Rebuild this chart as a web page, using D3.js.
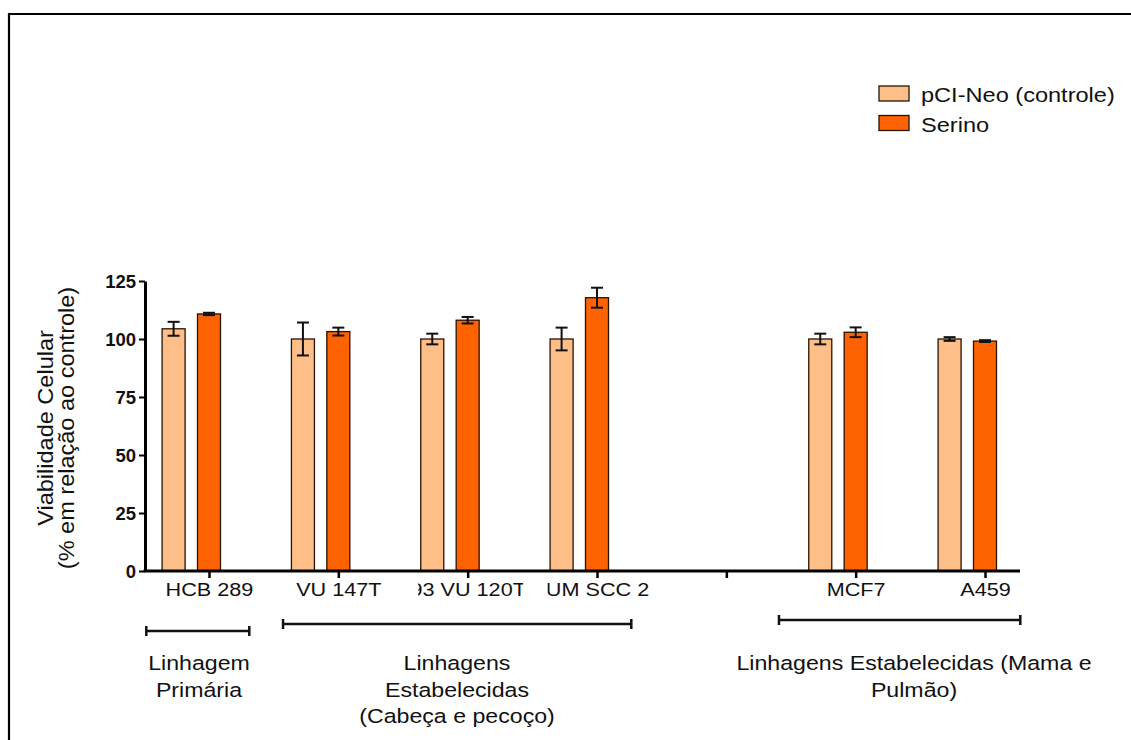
<!DOCTYPE html>
<html><head><meta charset="utf-8">
<script src="https://cdn.jsdelivr.net/npm/d3@7"></script>
<style>
body{margin:0;background:#fff}
svg{display:block}
text{font-family:Arial,"Liberation Sans",sans-serif;fill:#111}
</style>
</head><body><svg id="c" width="1131" height="740"></svg>
<script>
// ---------- data ----------
const slots = ["HCB 289","VU 147T","93 VU 120T","UM SCC 2","gap","MCF7","A459"];
const categories = ["HCB 289","VU 147T","93 VU 120T","UM SCC 2","MCF7","A459"];
const seriesNames = ["pCI-Neo (controle)","Serino"];
const seriesKeys = ["control","serino"];
const controlMean = [104.4,100.0,100.0,100.0,100.0,100.0];
const controlErr  = [3.0,7.1,2.3,4.9,2.3,0.8];
const serinoMean  = [110.8,103.2,108.1,117.8,102.9,99.1];
const serinoErr   = [0.5,1.7,1.4,4.3,2.1,0.4];
const yTicks = [0,25,50,75,100,125];
const yTitle = ["Viabilidade Celular","(% em relação ao controle)"];
const groupNames = [
  ["Linhagem","Primária"],
  ["Linhagens","Estabelecidas","(Cabeça e pecoço)"],
  ["Linhagens Estabelecidas (Mama e","Pulmão)"]
];
const groupFrom = ["HCB 289","VU 147T","MCF7"];
const groupTo   = ["HCB 289","UM SCC 2","A459"];

// ---------- layout ----------
const colors = {control:"#FDBF87", serino:"#FF6200"};
const svg = d3.select("#c");

// frame
svg.append("path").attr("d","M9,740 V14 H1131").attr("fill","none")
  .attr("stroke","#000").attr("stroke-width",2.2);

const y = d3.scaleLinear().domain([0,125]).range([571,281]);
const x0 = d3.scalePoint().domain(slots).range([191.3,967.3]);
const x1 = d3.scaleBand().domain(seriesKeys).range([-29.2,29.2]).paddingInner(0.35);
const tickX = x0.copy().range([191.3 + 17.7, 967.3 + 17.7]);

const rows = categories.map((c,i)=>({
  cat:c,
  vals:[{k:"control",m:controlMean[i],e:controlErr[i]},
        {k:"serino",m:serinoMean[i],e:serinoErr[i]}]
}));

// bars
const g = svg.append("g");
const grp = g.selectAll("g.grp").data(rows).join("g")
  .attr("transform",d=>`translate(${x0(d.cat)},0)`);
grp.selectAll("rect").data(d=>d.vals).join("rect")
  .attr("x",d=>x1(d.k)).attr("width",x1.bandwidth())
  .attr("y",d=>y(d.m)).attr("height",d=>y(0)-y(d.m))
  .attr("fill",d=>colors[d.k]).attr("stroke","#2a1200").attr("stroke-width",1.3);
// error bars
const eb = grp.selectAll("g.eb").data(d=>d.vals).join("g")
  .attr("transform",d=>`translate(${x1(d.k)+x1.bandwidth()/2},0)`)
  .attr("stroke","#111").attr("stroke-width",2);
eb.append("line").attr("y1",d=>y(d.m+d.e)).attr("y2",d=>y(d.m-d.e));
eb.append("line").attr("x1",-6).attr("x2",6).attr("y1",d=>y(d.m+d.e)).attr("y2",d=>y(d.m+d.e));
eb.append("line").attr("x1",-6).attr("x2",6).attr("y1",d=>y(d.m-d.e)).attr("y2",d=>y(d.m-d.e));

// y axis
const ya = svg.append("g").attr("transform","translate(145,0)")
  .call(d3.axisLeft(y).tickValues(yTicks).tickSize(6).tickSizeOuter(0).tickPadding(3));
ya.select(".domain").attr("stroke","#000").attr("stroke-width",3);
ya.selectAll(".tick line").attr("stroke","#000").attr("stroke-width",2);
ya.selectAll(".tick text").attr("font-size",18.5).attr("font-weight","bold")
  .attr("font-family","Arial, 'Liberation Sans', sans-serif").attr("fill","#111")
  .attr("dy","0.36em");

// x axis
svg.append("defs").append("clipPath").attr("id","lblclip")
  .append("rect").attr("x",-50).attr("y",0).attr("width",105).attr("height",40);
const xa = svg.append("g").attr("transform","translate(0,571)")
  .call(d3.axisBottom(tickX).tickSize(7).tickSizeOuter(0).tickPadding(5)
    .tickFormat(d=>d==="gap"?"":d));
xa.select(".domain").remove();
xa.append("line").attr("x1",143.5).attr("x2",1020).attr("stroke","#000").attr("stroke-width",3);
xa.selectAll(".tick").attr("clip-path","url(#lblclip)");
xa.selectAll(".tick line").attr("stroke","#000").attr("stroke-width",2.5);
xa.selectAll(".tick text").attr("font-size",18.5).attr("fill","#111")
  .attr("font-family","Arial, 'Liberation Sans', sans-serif")
  .attr("transform","scale(1.17,1)");

// y title
yTitle.forEach((t,i)=>{
  svg.append("text").attr("transform",`translate(${53+i*21},428) rotate(-90) scale(1.07,1)`)
    .attr("text-anchor","middle").attr("font-size",22).text(t);
});

// group brackets and labels
const brk = [
  {y:631, a:-45, b:58, cx:199},
  {y:624, a:-37.6, b:52, cx:457},
  {y:620, a:-59, b:53, cx:914}
];
groupNames.forEach((lines,i)=>{
  const b = brk[i];
  const xa1 = x0(groupFrom[i]) + b.a, xb1 = x0(groupTo[i]) + b.b;
  const gg = svg.append("g").attr("stroke","#111").attr("stroke-width",2.5);
  gg.append("line").attr("x1",xa1).attr("x2",xb1).attr("y1",b.y).attr("y2",b.y);
  gg.append("line").attr("x1",xa1).attr("x2",xa1).attr("y1",b.y-5).attr("y2",b.y+5);
  gg.append("line").attr("x1",xb1).attr("x2",xb1).attr("y1",b.y-5).attr("y2",b.y+5);
  lines.forEach((t,j)=>{
    svg.append("text").attr("transform",`translate(${b.cx},${670+j*26.5}) scale(1.13,1)`)
      .attr("text-anchor","middle").attr("font-size",20.5).text(t);
  });
});

// legend
seriesKeys.forEach((k,i)=>{
  svg.append("rect").attr("x",879).attr("y",86+i*29.5).attr("width",30).attr("height",15)
    .attr("fill",colors[k]).attr("stroke","#2a1200").attr("stroke-width",1.3);
  svg.append("text").attr("transform",`translate(921,${102+i*29.5}) scale(1.15,1)`)
    .attr("font-size",20.5).text(seriesNames[i]);
});
</script>
</body></html>
